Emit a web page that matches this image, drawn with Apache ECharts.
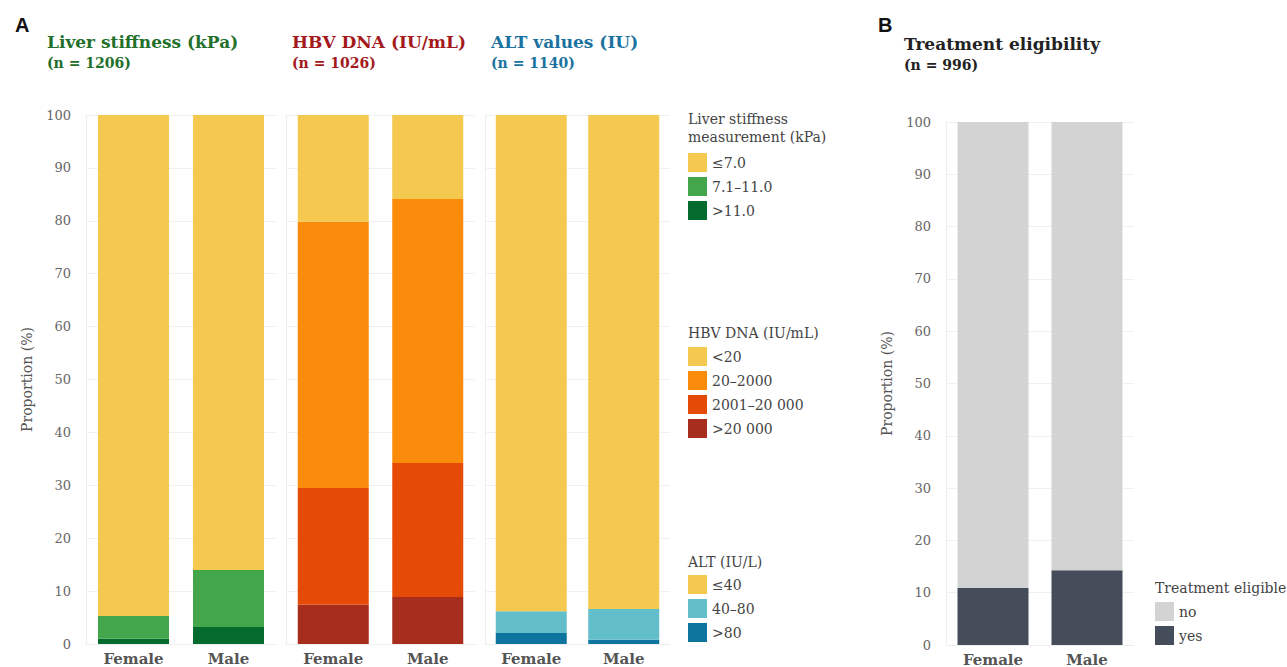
<!DOCTYPE html>
<html><head><meta charset="utf-8">
<script src="https://cdn.jsdelivr.net/npm/echarts@6/dist/echarts.min.js"></script>
<style>html,body{margin:0;padding:0;background:#fff}#c{width:1287px;height:667px}</style>
</head><body><div id="c"></div>
<script>
// ---- data ----
const sexes = ['Female', 'Male'];
const yTicks = [0, 100, 10];
// Liver stiffness (bottom to top)
const lsNames = ['>11.0', '7.1–11.0', '≤7.0'];
const lsGT11 = [1.0, 3.2];
const ls7to11 = [4.3, 10.8];
const lsLE7 = [94.7, 86.0];
// HBV DNA
const hbvNames = ['>20 000', '2001–20 000', '20–2000', '<20'];
const hbvGT20000 = [7.4, 8.9];
const hbv2001 = [22.1, 25.3];
const hbv20 = [50.3, 49.9];
const hbvLT20 = [20.2, 15.9];
// ALT
const altNames = ['>80', '40–80', '≤40'];
const altGT80 = [2.1, 0.8];
const alt40to80 = [4.1, 5.8];
const altLE40 = [93.8, 93.4];
// Treatment eligibility
const teNames = ['yes', 'no'];
const teYes = [10.9, 14.3];
const teNo = [89.1, 85.7];

const FONT = 'DejaVu Serif';
const chart = echarts.init(document.getElementById('c'), null, {renderer: 'svg'});

const grids = [
  {left: 86, top: 115, width: 190, height: 529},
  {left: 286, top: 115, width: 189, height: 529},
  {left: 485, top: 115, width: 185, height: 529},
  {left: 946, top: 122, width: 188, height: 523}
];
function xAx(i) {
  return {type: 'category', gridIndex: i, data: sexes,
    axisLine: {show: true, lineStyle: {color: '#eeeeee'}}, axisTick: {show: false},
    axisLabel: {color: '#555', fontFamily: FONT, fontSize: 15, fontWeight: 'bold', margin: 7}};
}
function yAx(i, labels, nameGap) {
  return {type: 'value', gridIndex: i, min: yTicks[0], max: yTicks[1], interval: yTicks[2],
    name: labels ? 'Proportion (%)' : '', nameLocation: 'middle', nameGap: nameGap || 50,
    nameTextStyle: {color: '#555', fontFamily: FONT, fontSize: 14},
    axisLine: {show: true, lineStyle: {color: '#eeeeee'}}, axisTick: {show: false},
    axisLabel: {show: labels, color: '#666', fontFamily: FONT, fontSize: 13, margin: 15},
    splitLine: {show: true, lineStyle: {color: '#f0f0f0'}}};
}
function bar(name, data, idx, stack, color) {
  return {name, type: 'bar', stack, xAxisIndex: idx, yAxisIndex: idx, data,
    barWidth: 71, itemStyle: {color}, emphasis: {disabled: true}};
}
const C = {yellow: '#F5C94F', lgreen: '#44A64A', dgreen: '#046B2F', orange: '#FB8B0A', red: '#E54B07',
  dred: '#A72D1C', cyan: '#62BEC8', dblue: '#0D759E', grey: '#D3D3D3', slate: '#444D59'};

const series = [
  bar(lsNames[0], lsGT11, 0, 'ls', C.dgreen),
  bar(lsNames[1], ls7to11, 0, 'ls', C.lgreen),
  bar(lsNames[2], lsLE7, 0, 'ls', C.yellow),
  bar(hbvNames[0], hbvGT20000, 1, 'hbv', C.dred),
  bar(hbvNames[1], hbv2001, 1, 'hbv', C.red),
  bar(hbvNames[2], hbv20, 1, 'hbv', C.orange),
  bar(hbvNames[3], hbvLT20, 1, 'hbv', C.yellow),
  bar(altNames[0], altGT80, 2, 'alt', C.dblue),
  bar(altNames[1], alt40to80, 2, 'alt', C.cyan),
  bar(altNames[2], altLE40, 2, 'alt', C.yellow),
  bar(teNames[0], teYes, 3, 'te', C.slate),
  bar(teNames[1], teNo, 3, 'te', C.grey)
];

function legend(data, left, top) {
  return {data, left, top, orient: 'vertical', icon: 'rect', itemWidth: 19, itemHeight: 19, itemGap: 5,
    selectedMode: false, textStyle: {color: '#444', fontFamily: FONT, fontSize: 14}};
}
function ttl(text, sub, left, top, color, size) {
  return {text, subtext: sub, left, top, itemGap: 6,
    textStyle: {color, fontFamily: FONT, fontSize: size, fontWeight: 'bold'},
    subtextStyle: {color, fontFamily: FONT, fontSize: 14, fontWeight: 'bold'}};
}
function lt(text, left, top) {
  return {text, left, top, textStyle: {color: '#444', fontFamily: FONT, fontSize: 14, fontWeight: 'normal', lineHeight: 18}};
}

chart.setOption({
  animation: false,
  backgroundColor: '#ffffff',
  title: [
    {text: 'A', left: 10, top: 10, textStyle: {fontFamily: 'Liberation Sans', fontSize: 20, fontWeight: 'bold', color: '#111'}},
    {text: 'B', left: 873, top: 10, textStyle: {fontFamily: 'Liberation Sans', fontSize: 20, fontWeight: 'bold', color: '#111'}},
    ttl('Liver stiffness (kPa)', '(n = 1206)', 42, 28, '#22702A', 17),
    ttl('HBV DNA (IU/mL)', '(n = 1026)', 287, 28, '#A3191C', 17),
    ttl('ALT values (IU)', '(n = 1140)', 486, 28, '#1A72A0', 17),
    ttl('Treatment eligibility', '(n = 996)', 899, 30, '#222', 17),
    lt('Liver stiffness\nmeasurement (kPa)', 683, 105),
    lt('HBV DNA (IU/mL)', 683, 319),
    lt('ALT (IU/L)', 683, 548),
    lt('Treatment eligible', 1150, 574)
  ],
  legend: [
    legend(lsNames.slice().reverse(), 683, 148),
    legend(hbvNames.slice().reverse(), 683, 342),
    legend(altNames.slice().reverse(), 683, 570),
    legend(teNames.slice().reverse(), 1150, 597)
  ],
  grid: grids,
  xAxis: [xAx(0), xAx(1), xAx(2), xAx(3)],
  yAxis: [yAx(0, true, 52), yAx(1, false), yAx(2, false), yAx(3, true, 52)],
  series
});
</script></body></html>
